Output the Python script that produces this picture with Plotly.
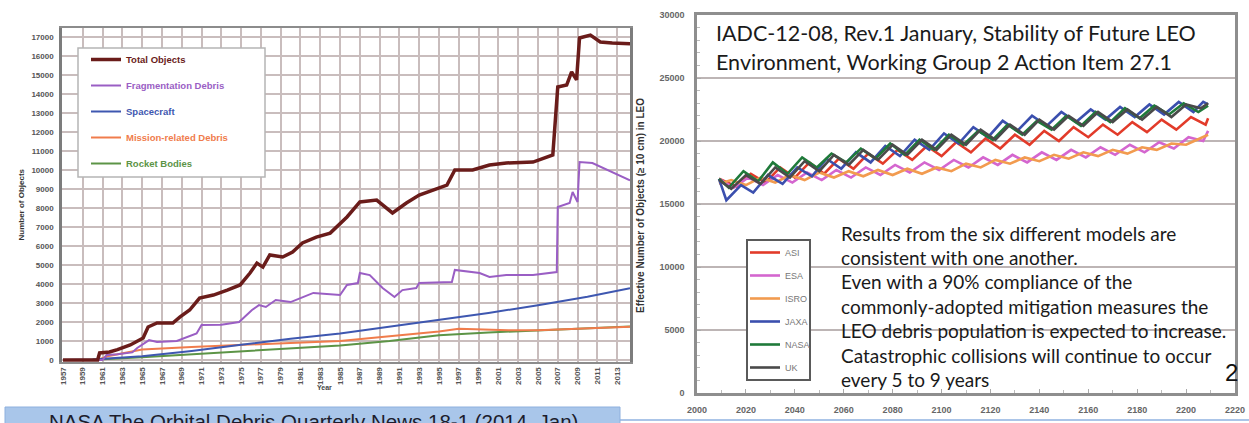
import plotly.graph_objects as go

W, H = 1249, 423
def px(x): return x / W
def py(y): return 1 - y / H

# ---------------- Left chart data (NASA ODQN) ----------------
TOTAL_YEARS = [1957, 1960.5, 1960.7, 1961.7, 1962.5, 1963.8, 1965.1, 1965.6, 1966.5, 1968.1, 1968.8,
               1969.8, 1970.8, 1972.2, 1973.6, 1974.9, 1975.9, 1976.6, 1977.2, 1977.9, 1979.2, 1980.2,
               1981.2, 1982.6, 1984.0, 1985.7, 1987.0, 1988.7, 1990.3, 1991.7, 1993.0, 1995.8, 1996.6,
               1998.4, 2000.1, 2001.8, 2004.5, 2006.5, 2007.0, 2007.9, 2008.4, 2008.9, 2009.2, 2010.3,
               2011.3, 2012.5, 2014.3]
TOTAL = [0, 0, 370, 420, 550, 790, 1160, 1740, 1950, 1950, 2260,
         2630, 3260, 3420, 3680, 3950, 4580, 5100, 4890, 5530, 5420, 5680,
         6160, 6470, 6680, 7530, 8320, 8420, 7740, 8260, 8680, 9210, 10000,
         10000, 10260, 10370, 10420, 10790, 14370, 14470, 15160, 14740, 16950, 17100,
         16740, 16680, 16650]

FRAG_YEARS = [1957, 1961.0, 1961.4, 1962.5, 1964.0, 1964.5, 1965.7, 1966.5, 1968.5, 1969.5, 1970.5,
              1971.0, 1973.0, 1974.8, 1975.3, 1976.1, 1976.8, 1977.5, 1978.5, 1980.0, 1981.0, 1982.3,
              1985.0, 1985.7, 1986.8, 1987.0, 1988.0, 1989.3, 1990.5, 1991.3, 1992.7, 1993.0, 1996.3,
              1996.6, 1999.1, 2000.1, 2001.8, 2004.5, 2006.9, 2007.0, 2008.2, 2008.5, 2009.0, 2009.2,
              2010.5, 2014.3]
FRAG = [0, 0, 260, 300, 400, 630, 1050, 950, 1000, 1200, 1400,
        1840, 1850, 2000, 2260, 2630, 2890, 2790, 3160, 3050, 3260, 3530,
        3420, 3950, 4050, 4580, 4470, 3790, 3320, 3680, 3790, 4050, 4110,
        4740, 4580, 4370, 4470, 4470, 4630, 8050, 8260, 8840, 8320, 10420,
        10370, 9450]

SC_YEARS = [1957, 1958, 1960, 1965, 1970, 1975, 1980, 1985, 1990, 1995, 2000, 2005, 2010, 2014.3]
SPACECRAFT = [0, 0, 30, 200, 480, 800, 1120, 1400, 1750, 2120, 2480, 2880, 3330, 3780]

MRD_YEARS = [1957, 1960.5, 1961.5, 1965, 1970, 1975, 1980, 1985, 1990, 1995, 1997, 1999, 2002, 2005, 2010, 2014.3]
MISSION = [0, 0, 200, 550, 680, 800, 900, 1000, 1250, 1500, 1650, 1600, 1560, 1560, 1650, 1750]

RB_YEARS = [1957, 1958, 1960, 1965, 1970, 1975, 1980, 1985, 1990, 1995, 2000, 2005, 2010, 2014.3]
ROCKET = [0, 0, 20, 150, 300, 450, 600, 760, 1000, 1300, 1450, 1550, 1650, 1760]

LEFT_TICK_YEARS = list(range(1957, 2014, 2))
LEFT_Y_TICKS = list(range(0, 17001, 1000))

# ---------------- Right chart data (IADC LEO projections) ----------------
ASI_YEARS = [2009, 2016, 2022, 2028, 2034, 2040, 2046, 2052, 2058, 2064, 2070, 2076, 2082, 2088, 2094,
             2100, 2106, 2112, 2118, 2124, 2130, 2136, 2142, 2148, 2154, 2160, 2166, 2172, 2178, 2184,
             2190, 2196, 2202, 2208, 2209]
ASI = [17000, 16400, 17400, 16700, 17900, 17100, 18300, 17400, 18600, 17800, 19000, 18200, 19300, 18500, 19600,
       18800, 19900, 19100, 20200, 19400, 20500, 19700, 20800, 20000, 21100, 20300, 21300, 20500, 21500, 20700,
       21700, 20900, 21900, 21300, 21800]

ESA_YEARS = [2009, 2015, 2021, 2027, 2033, 2039, 2045, 2051, 2057, 2063, 2069, 2075, 2081, 2087, 2093,
             2099, 2105, 2111, 2117, 2123, 2129, 2135, 2141, 2147, 2153, 2159, 2165, 2171, 2177, 2183,
             2189, 2195, 2201, 2207, 2209]
ESA = [17000, 16300, 17100, 16500, 17300, 16700, 17500, 16900, 17700, 17100, 17900, 17300, 18100, 17500, 18300,
       17700, 18500, 17900, 18700, 18100, 18900, 18300, 19100, 18500, 19300, 18700, 19500, 18900, 19700, 19100,
       19900, 19400, 20300, 20000, 20800]

ISRO_YEARS = [2009, 2014, 2020, 2026, 2032, 2038, 2044, 2050, 2056, 2062, 2068, 2074, 2080, 2086, 2092,
              2098, 2104, 2110, 2116, 2122, 2128, 2134, 2140, 2146, 2152, 2158, 2164, 2170, 2176, 2182,
              2188, 2194, 2200, 2206, 2209]
ISRO = [16600, 16900, 16500, 17100, 16700, 17300, 16900, 17500, 17100, 17600, 17200, 17700, 17300, 17800, 17400,
        17900, 17600, 18200, 17900, 18500, 18200, 18700, 18400, 18900, 18600, 19100, 18800, 19300, 19000, 19500,
        19300, 19800, 19700, 20200, 20500]

JAXA_YEARS = [2009, 2012, 2018, 2023, 2029, 2035, 2041, 2047, 2053, 2059, 2065, 2071, 2077, 2083, 2089,
              2095, 2101, 2107, 2113, 2119, 2125, 2131, 2137, 2143, 2149, 2155, 2161, 2167, 2173, 2179,
              2185, 2191, 2197, 2203, 2207, 2209]
JAXA = [17000, 15300, 16500, 15900, 17300, 16600, 17900, 17200, 18600, 17800, 19100, 18300, 19600, 18800, 20100,
        19300, 20600, 19800, 21100, 20300, 21600, 20800, 22000, 21200, 22300, 21500, 22500, 21700, 22700, 21900,
        22900, 22100, 23100, 22300, 23100, 22900]

NASA_YEARS = [2009, 2013, 2019, 2025, 2031, 2037, 2043, 2049, 2055, 2061, 2067, 2073, 2079, 2085, 2091,
              2097, 2103, 2109, 2115, 2121, 2127, 2133, 2139, 2145, 2151, 2157, 2163, 2169, 2175, 2181,
              2187, 2193, 2199, 2205, 2209]
NASA = [17000, 16300, 17600, 16800, 18300, 17400, 18700, 17900, 19000, 18300, 19400, 18600, 19800, 18900, 20100,
        19300, 20500, 19700, 20800, 20100, 21300, 20500, 21600, 20900, 22000, 21200, 22300, 21500, 22600, 21800,
        22800, 22100, 23000, 22300, 22800]

UK_YEARS = [2009, 2014, 2020, 2026, 2032, 2038, 2044, 2050, 2056, 2062, 2068, 2074, 2080, 2086, 2092,
            2098, 2104, 2110, 2116, 2122, 2128, 2134, 2140, 2146, 2152, 2158, 2164, 2170, 2176, 2182,
            2188, 2194, 2200, 2206, 2209]
UK = [16900, 16200, 17300, 16600, 17900, 17100, 18400, 17600, 18900, 18100, 19300, 18500, 19700, 18900, 20100,
      19300, 20500, 19700, 20900, 20100, 21300, 20500, 21700, 20900, 22000, 21200, 22300, 21500, 22500, 21700,
      22700, 21900, 22900, 22600, 23000]

RIGHT_X_TICKS = list(range(2000, 2221, 20))
RIGHT_Y_TICKS = list(range(0, 30001, 5000))

TITLE_LINES = ["IADC-12-08, Rev.1 January, Stability of Future LEO",
               "Environment, Working Group 2 Action Item 27.1"]
NOTE_LINES = ["Results from the six different models are",
              "consistent with one another.",
              "Even with a 90% compliance of the",
              "commonly-adopted mitigation measures the",
              "LEO debris population is expected to increase.",
              "Catastrophic collisions will continue to occur",
              "every 5 to 9 years"]
CAPTION = "NASA The Orbital Debris Quarterly News 18-1 (2014, Jan)"

fig = go.Figure()

left_series = [
    ("Total Objects", TOTAL_YEARS, TOTAL, "#6a1c1a", 3.5),
    ("Fragmentation Debris", FRAG_YEARS, FRAG, "#9a5ec4", 2),
    ("Spacecraft", SC_YEARS, SPACECRAFT, "#3e57b0", 2),
    ("Mission-related Debris", MRD_YEARS, MISSION, "#f07c4c", 2),
    ("Rocket Bodies", RB_YEARS, ROCKET, "#5c9446", 2),
]
names_order = [s[0] for s in left_series]
for name, xs, ys, col, w in reversed(left_series):
    fig.add_trace(go.Scatter(
        x=xs, y=ys, mode="lines", line=dict(color=col, width=w),
        name=f'<span style="color:{col}">{name}</span>',
        legend="legend", legendgroup=name, xaxis="x", yaxis="y", hoverinfo="skip",
        legendrank=names_order.index(name)))

right_series = [
    ("ASI", ASI_YEARS, ASI, "#e23b2a"),
    ("ESA", ESA_YEARS, ESA, "#d466cf"),
    ("ISRO", ISRO_YEARS, ISRO, "#f29b4f"),
    ("JAXA", JAXA_YEARS, JAXA, "#3b4fae"),
    ("NASA", NASA_YEARS, NASA, "#1f7a3a"),
    ("UK", UK_YEARS, UK, "#4a4a4a"),
]
for i, (name, xs, ys, col) in enumerate(right_series):
    fig.add_trace(go.Scatter(
        x=xs, y=ys, mode="lines", line=dict(color=col, width=2.6),
        name=name, legend="legend2", legendgroup="r" + name, legendrank=i,
        xaxis="x2", yaxis="y2", hoverinfo="skip"))

tickfont = dict(family="Liberation Sans", size=8, color="#555555", weight="bold")

fig.update_layout(
    width=W, height=H, margin=dict(l=0, r=0, t=0, b=0),
    paper_bgcolor="white", plot_bgcolor="white", showlegend=True,
    xaxis=dict(domain=[px(62), px(630)], range=[1956.9, 2014.3], tickvals=LEFT_TICK_YEARS,
               tickangle=-90, tickfont=tickfont, showgrid=True, gridcolor="#c9bdbd", gridwidth=1.5,
               showline=True, linecolor="#8c8c8c", linewidth=2, mirror=True, zeroline=False,
               ticks="", automargin=False, anchor="y"),
    yaxis=dict(domain=[py(362), py(28)], range=[-105, 17474], tickvals=LEFT_Y_TICKS, tickformat="d",
               tickfont=tickfont, showgrid=True, gridcolor="#c9bdbd", gridwidth=1.5,
               showline=True, linecolor="#7c7c7c", linewidth=2.5, mirror=True, zeroline=False,
               ticks="", ticklabelstandoff=4, automargin=False, anchor="x"),
    xaxis2=dict(domain=[px(697), px(1235)], range=[2000, 2220], tickvals=RIGHT_X_TICKS,
                tickfont=dict(family="Liberation Sans", size=9, color="#666666", weight="bold"),
                showgrid=False, showline=True, linecolor="#8e8e8e", linewidth=2.5, mirror=True,
                zeroline=False, ticks="inside", ticklen=4, tickcolor="#aaaaaa",
                minor=dict(dtick=10, ticks="inside", ticklen=3, tickcolor="#bbbbbb"),
                ticklabelstandoff=6, automargin=False, anchor="y2"),
    yaxis2=dict(domain=[py(393), py(15)], range=[0, 30000], tickvals=RIGHT_Y_TICKS, tickformat="d",
                tickfont=dict(family="Liberation Sans", size=9, color="#666666", weight="bold"),
                showgrid=True, gridcolor="#bdb5b5", gridwidth=2,
                showline=True, linecolor="#8e8e8e", linewidth=2.5, mirror=True, zeroline=False,
                ticks="inside", ticklen=4, tickcolor="#aaaaaa",
                minor=dict(dtick=1000, ticks="inside", ticklen=3, tickcolor="#bbbbbb"),
                ticklabelstandoff=8, automargin=False, anchor="x2"),
    legend=dict(x=px(86), y=py(45), xanchor="left", yanchor="top", bgcolor="rgba(0,0,0,0)",
                borderwidth=0, font=dict(family="Liberation Sans", size=9.5, weight="bold"),
                traceorder="grouped", tracegroupgap=7, itemclick=False),
    legend2=dict(x=px(745), y=py(238), xanchor="left", yanchor="top", bgcolor="rgba(0,0,0,0)",
                 borderwidth=0, font=dict(family="Liberation Sans", size=9, color="#777777"),
                 traceorder="grouped", tracegroupgap=4, itemclick=False),
)

shapes = [
    dict(type="rect", xref="paper", yref="paper", x0=px(78), x1=px(265), y0=py(177), y1=py(48),
         fillcolor="white", line=dict(color="#b5b5b5", width=1.5), layer="above"),
    dict(type="rect", xref="paper", yref="paper", x0=px(747), x1=px(810), y0=py(380), y1=py(240),
         fillcolor="white", line=dict(color="#5a5a5a", width=2), layer="above"),
    dict(type="rect", xref="paper", yref="paper", x0=px(5), x1=px(620), y0=py(424), y1=py(407),
         fillcolor="#a9c6ea", line=dict(color="#8eb0de", width=1), layer="above"),
    dict(type="line", xref="paper", yref="paper", x0=px(620), x1=px(1249), y0=py(420), y1=py(420),
         line=dict(color="#8fb2e0", width=1.5), layer="above"),
]
fig.update_layout(shapes=shapes)

ann = []
ann.append(dict(text="<b>Number of Objects</b>", x=px(15), y=py(205), xref="paper", yref="paper",
                showarrow=False, textangle=-90, font=dict(family="Liberation Sans", size=8, color="#333333")))
ann.append(dict(text="<b>Year</b>", x=px(315), y=py(393), xref="paper", yref="paper", showarrow=False,
                font=dict(family="Liberation Sans", size=7, color="#444444")))
ann.append(dict(text="<b>Effective Number of Objects (≥ 10 cm) in LEO</b>", x=px(641), y=py(205),
                xref="paper", yref="paper", showarrow=False, textangle=-90,
                font=dict(family="Liberation Sans", size=10, color="#333333")))
for i, line in enumerate(TITLE_LINES):
    ann.append(dict(text=line, x=px(714), y=py(33 + 29 * i), xref="paper", yref="paper",
                    xanchor="left", yanchor="middle", showarrow=False,
                    font=dict(family="Lato", size=21.5, color="#1a1a1a")))
for i, line in enumerate(NOTE_LINES):
    ann.append(dict(text=line, x=px(839), y=py(233 + 24.4 * i), xref="paper", yref="paper",
                    xanchor="left", yanchor="middle", showarrow=False,
                    font=dict(family="Lato", size=19, color="#1a1a1a")))
ann.append(dict(text="2", x=px(1231), y=py(372), xref="paper", yref="paper", showarrow=False,
                xanchor="center", yanchor="middle", font=dict(family="Liberation Sans", size=24, color="#111111")))
ann.append(dict(text=CAPTION, x=px(313), y=py(421), xref="paper", yref="paper", showarrow=False,
                xanchor="center", yanchor="middle", font=dict(family="Liberation Sans", size=20.5, color="#1c1c2c")))
fig.update_layout(annotations=ann)

fig.write_html("out.html")
